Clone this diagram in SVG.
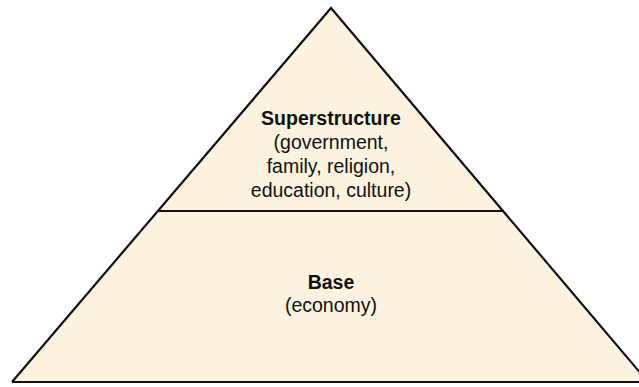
<svg xmlns="http://www.w3.org/2000/svg" width="639" height="387" viewBox="0 0 639 387">
<style>
.t{font-family:"Liberation Sans",Arial,sans-serif;font-size:19.5px;fill:#111;text-anchor:middle}
.b{font-weight:bold}
.edge{fill:none;stroke:#111;stroke-width:2.2}
</style>
<rect width="639" height="387" fill="#ffffff"/>
<g id="pyramid">
<polygon points="331,8 12,382 648,382" fill="#fbf2df"/>
</g>
<g id="superstructure">
<text class="t b" x="331" y="125">Superstructure</text>
<text class="t" x="331" y="149">(government,</text>
<text class="t" x="331" y="173">family, religion,</text>
<text class="t" x="331" y="197">education, culture)</text>
</g>
<g id="base">
<text class="t b" x="331" y="289">Base</text>
<text class="t" x="331" y="312">(economy)</text>
</g>
<g id="connectors">
<polyline class="edge" points="12,382 331,8 648,382"/>
<line class="edge" x1="12" y1="382" x2="648" y2="382"/>
<line class="edge" x1="158" y1="211" x2="503" y2="211"/>
</g>
</svg>
